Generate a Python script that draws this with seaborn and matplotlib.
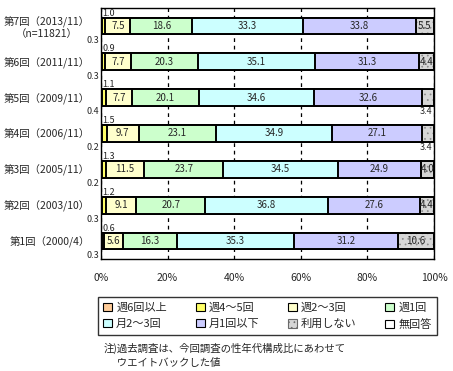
import numpy as np
import pandas as pd
import matplotlib
matplotlib.use('Agg')
import matplotlib.pyplot as plt
import seaborn as sns
from matplotlib.patches import Patch, Rectangle

# ---- data ----
rounds = ['第7回（2013/11）\n（n=11821）', '第6回（2011/11）', '第5回（2009/11）',
          '第4回（2006/11）', '第3回（2005/11）', '第2回（2003/10）', '第1回（2000/4）']
series_names = ['週6回以上', '週4～5回', '週2～3回', '週1回',
                '月2～3回', '月1回以下', '利用しない', '無回答']
w6 = [0.3, 0.3, 0.4, 0.2, 0.2, 0.3, 0.3]
w45 = [1.0, 0.9, 1.1, 1.5, 1.3, 1.2, 0.6]
w23 = [7.5, 7.7, 7.7, 9.7, 11.5, 9.1, 5.6]
w1 = [18.6, 20.3, 20.1, 23.1, 23.7, 20.7, 16.3]
m23 = [33.3, 35.1, 34.6, 34.9, 34.5, 36.8, 35.3]
m1 = [33.8, 31.3, 32.6, 27.1, 24.9, 27.6, 31.2]
nouse = [5.5, 4.4, 3.4, 3.4, 4.0, 4.4, 10.6]
noans = [0.0, 0.0, 0.0, 0.0, 0.0, 0.0, 0.0]
x_ticks = [0, 20, 40, 60, 80, 100]
x_tick_labels = ['0%', '20%', '40%', '60%', '80%', '100%']
note = '注)過去調査は、今回調査の性年代構成比にあわせて\n　 ウエイトバックした値'

series = [w6, w45, w23, w1, m23, m1, nouse, noans]
colors = ['#FFCC99', '#FFFF66', '#FFFFCC', '#CCFFCC', '#CCFFFF', '#CCCCFF', '#D6D6D6', '#FFFFFF']
hatches = [None, None, None, None, None, None, '...', None]

sns.set_theme(style='white')
plt.rcParams['font.family'] = ['Noto Sans CJK JP', 'DejaVu Sans']
plt.rcParams['hatch.linewidth'] = 0.5

W, H = 453, 371
fig = plt.figure(figsize=(W / 100, H / 100), dpi=100)
fig.patch.set_facecolor('white')
ax = fig.add_axes([101 / W, 1 - 259 / H, 333 / W, 251 / H])

df = pd.DataFrame({name: vals for name, vals in zip(series_names, series)})
df['round'] = rounds
cum = df[series_names].cumsum(axis=1)

bar_w = 0.47
for i in reversed(range(7)):
    n_before = len(ax.patches)
    if hatches[i]:
        sns.barplot(x=cum[series_names[i]], y=df['round'], order=rounds, orient='h',
                    color=colors[i], saturation=1, edgecolor='#8a8a8a', linewidth=0,
                    width=bar_w, ax=ax, zorder=3, hatch=hatches[i])
        # black outline over the hatched bars
        for p in list(ax.patches)[n_before:]:
            ax.add_patch(Rectangle(p.get_xy(), p.get_width(), p.get_height(),
                                   fill=False, edgecolor='black', linewidth=1.4, zorder=3))
    else:
        sns.barplot(x=cum[series_names[i]], y=df['round'], order=rounds, orient='h',
                    color=colors[i], saturation=1, edgecolor='black', linewidth=1.4,
                    width=bar_w, ax=ax, zorder=3)

ax.set_xlim(0, 100)
ax.set_ylim(6.5, -0.5)
ax.set_xticks(x_ticks)
ax.set_xticklabels(x_tick_labels, fontsize=7.5)
ax.tick_params(axis='x', length=0, pad=10)
ax.tick_params(axis='y', length=0, pad=8, labelsize=7.5)
for lab in ax.get_yticklabels():
    lab.set_multialignment('center')
ax.set_xlabel('')
ax.set_ylabel('')
ax.set_axisbelow(True)
ax.xaxis.grid(True, linestyle=(0, (3, 3)), color='black', linewidth=0.9)
ax.yaxis.grid(False)
for s in ax.spines.values():
    s.set_color('black')
    s.set_linewidth(1.0)

# ---- value labels ----
half = bar_w / 2
for r in range(7):
    left = 0.0
    for k in range(7):
        v = series[k][r]
        c = left + v / 2
        if k == 0:
            ax.annotate(f'{v:.1f}', (0, r + half), xytext=(-1, -1), textcoords='offset points',
                        ha='right', va='top', fontsize=6.5, annotation_clip=False)
        elif k == 1:
            ax.annotate(f'{v:.1f}', (0, r - half), xytext=(1, 0), textcoords='offset points',
                        ha='left', va='bottom', fontsize=6.5, annotation_clip=False)
        elif k == 6 and v < 4.0:
            ax.annotate(f'{v:.1f}', (100, r + half), xytext=(-1, -1), textcoords='offset points',
                        ha='right', va='top', fontsize=6.5, annotation_clip=False)
        else:
            ax.text(min(c, 98.6), r, f'{v:.1f}', ha='center', va='center', fontsize=7, zorder=5)
        left += v

# ---- legend ----
handles = []
for i in range(8):
    if hatches[i]:
        handles.append(Patch(facecolor=colors[i], edgecolor='#6a6a6a', linewidth=0.8, hatch=hatches[i]))
    else:
        handles.append(Patch(facecolor=colors[i], edgecolor='black', linewidth=0.8))
order = [0, 4, 1, 5, 2, 6, 3, 7]
leg = fig.legend([handles[i] for i in order], [series_names[i] for i in order],
                 ncol=4, loc='center', bbox_to_anchor=(267.5 / W, 1 - 316 / H),
                 fontsize=8, frameon=True, fancybox=False, edgecolor='black',
                 handlelength=0.8, handleheight=0.8, handletextpad=0.35,
                 columnspacing=2.6, labelspacing=0.55, borderpad=0.45, borderaxespad=0)
leg.get_frame().set_linewidth(1.0)

fig.text(104 / W, 1 - 343 / H, note, fontsize=7.5, ha='left', va='top', linespacing=1.45)

fig.savefig('out.png', dpi=100, facecolor='white')
